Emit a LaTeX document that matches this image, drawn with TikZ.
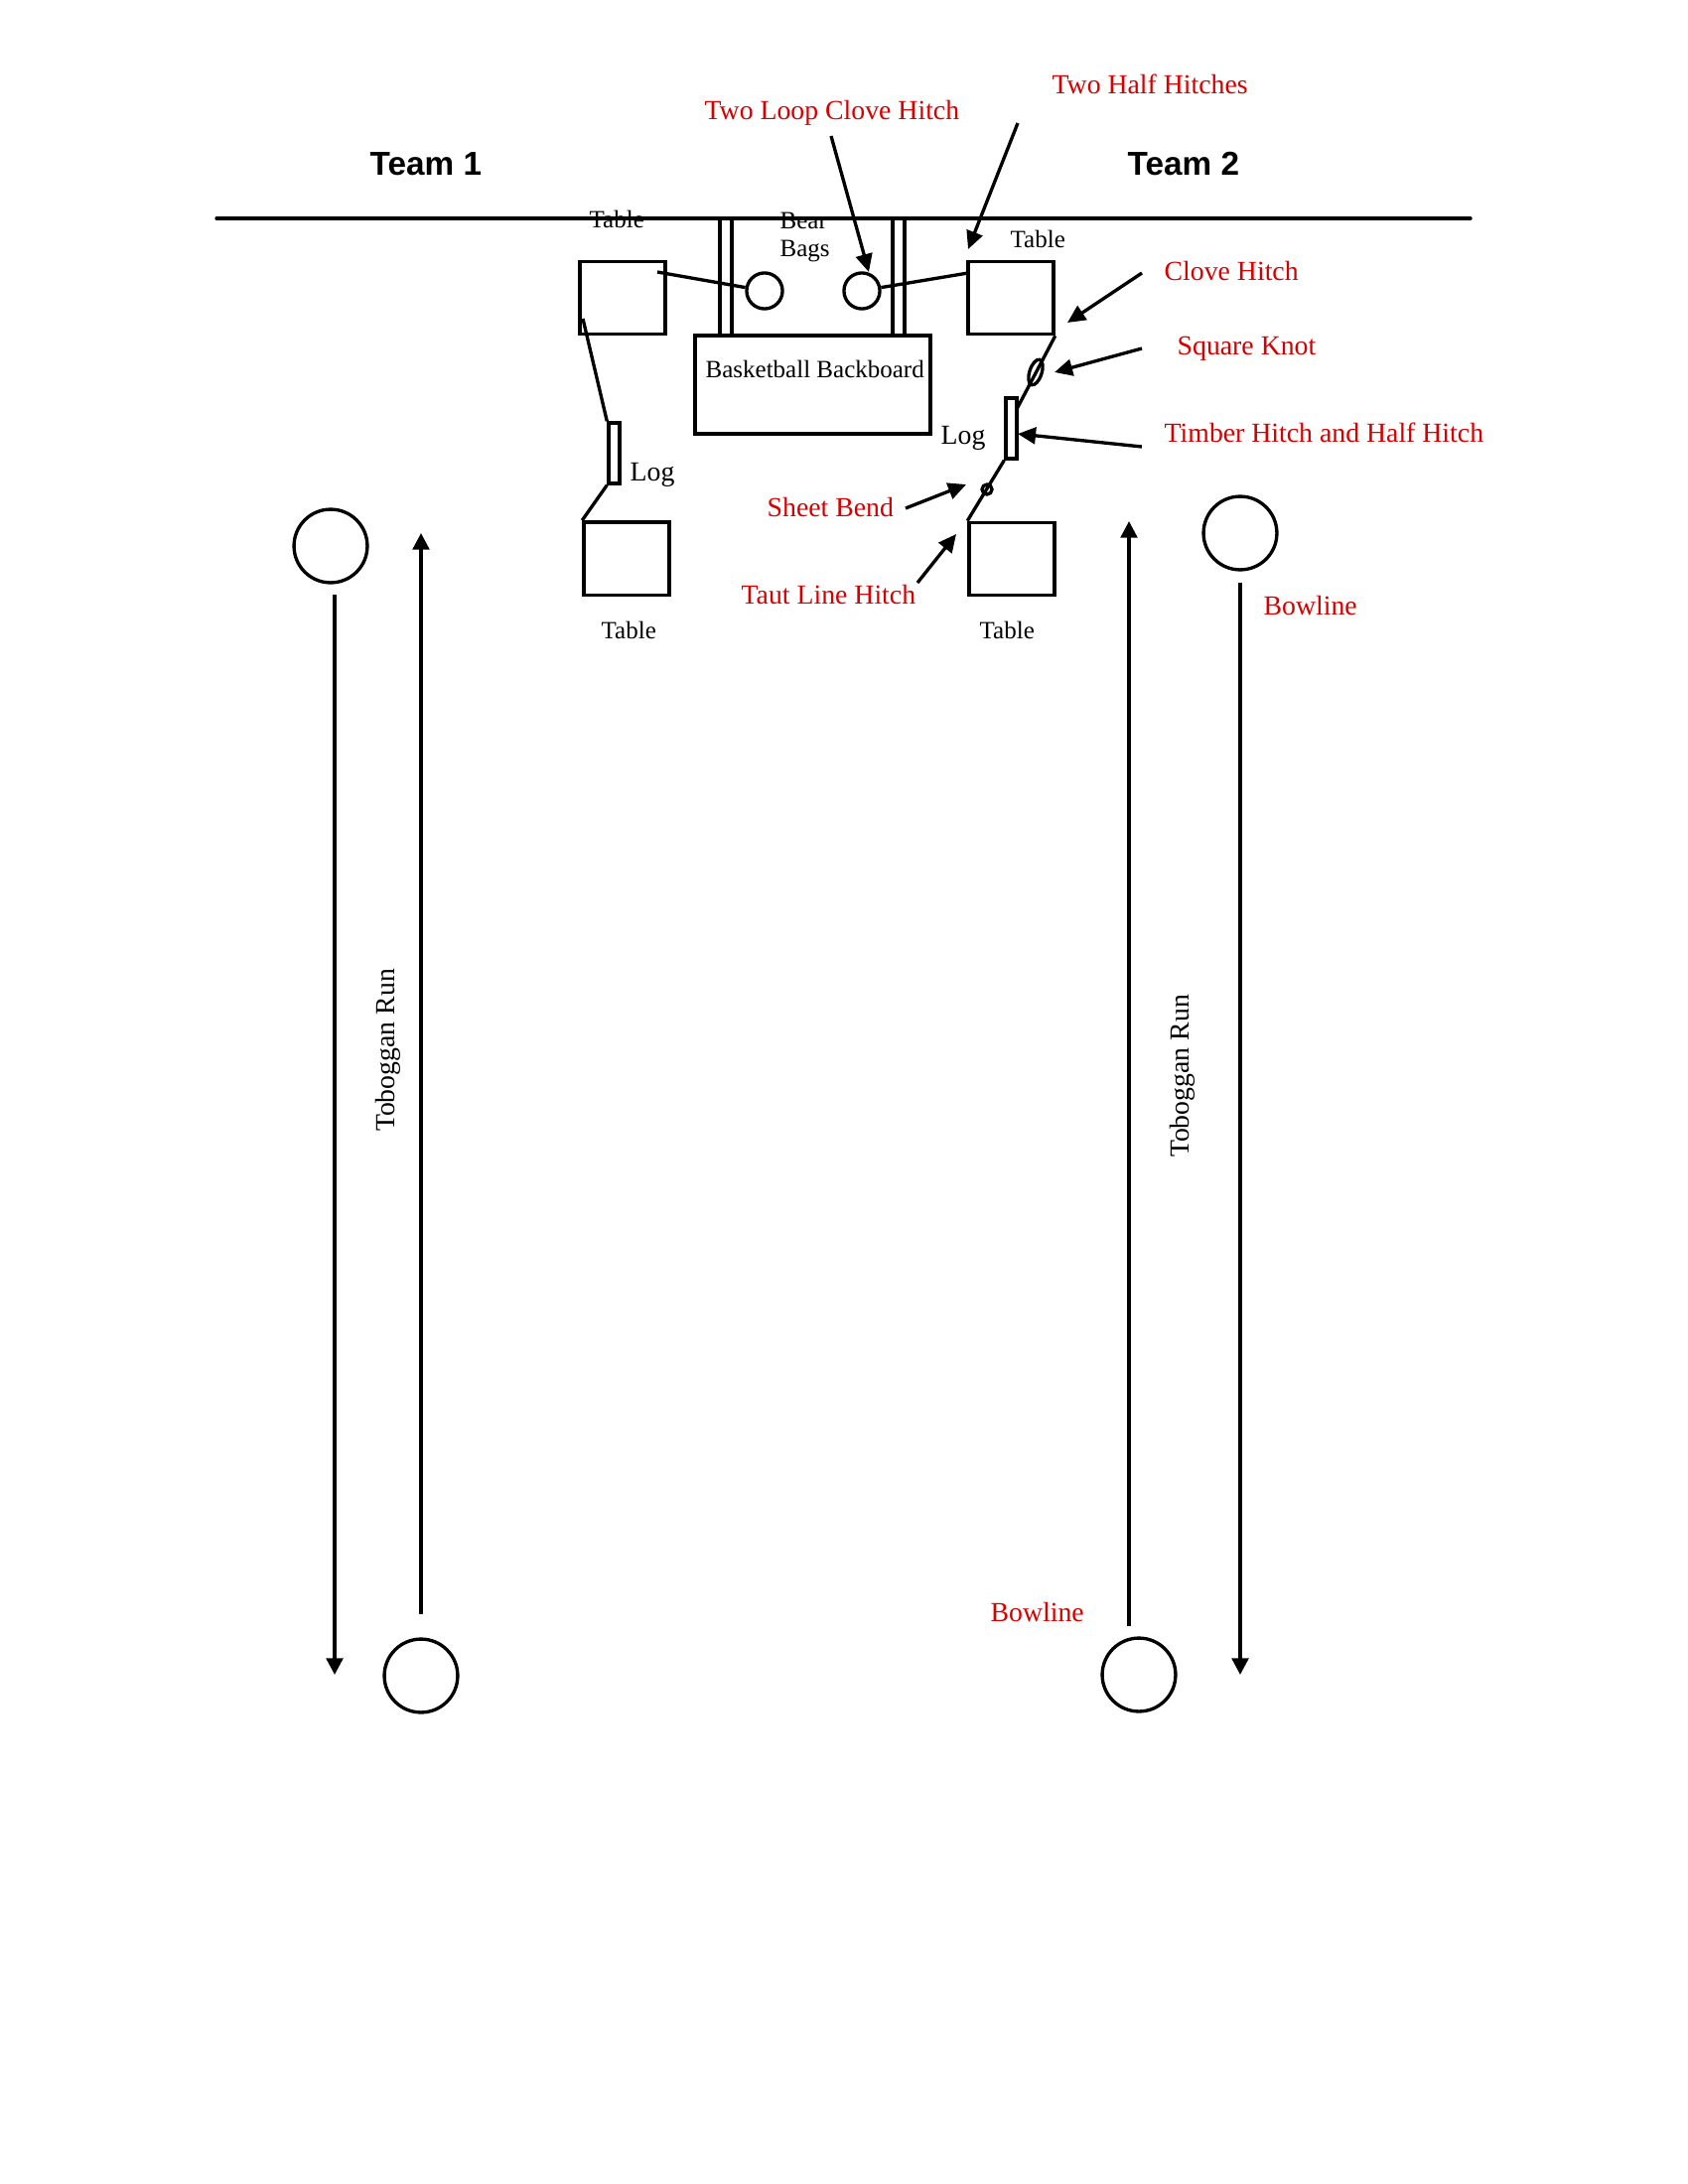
\documentclass[tikz,border=0pt]{standalone}
\usepackage{fontspec}
\setmainfont{Liberation Serif}
\newfontfamily\teamfont{Liberation Sans}
\usetikzlibrary{arrows.meta,shapes.geometric}
\definecolor{kred}{RGB}{215,0,0}
\begin{document}
\begin{tikzpicture}[x=0.36pt,y=-0.36pt, line width=1.2pt,
  tbl/.style={draw, rectangle, inner sep=0pt, minimum width=31pt, minimum height=26.4pt},
  logbox/.style={draw, rectangle, inner sep=0pt, minimum width=4pt, minimum height=22pt},
  bag/.style={draw, circle, inner sep=0pt, minimum size=13pt},
  ring/.style={draw, circle, inner sep=0pt, minimum size=26.6pt},
  lbl/.style={inner sep=0pt, anchor=base west, font=\fontsize{9}{10}\selectfont},
  biglbl/.style={inner sep=0pt, anchor=base west, font=\fontsize{10}{12}\selectfont},
  knot/.style={inner sep=0pt, anchor=base west, text=kred, font=\fontsize{10}{12}\selectfont},
  team/.style={inner sep=0pt, anchor=base west, font=\teamfont\bfseries\fontsize{12}{14}\selectfont},
  callout/.style={-{Triangle[length=6.5pt,width=6pt]}},
  runarrow/.style={-{Triangle[length=6pt,width=6pt]}}]
\useasboundingbox (0,0) rectangle (1700,2200);

% baseline
\coordinate (bl0) at (218,220);
\coordinate (bl1) at (1481,220);
\draw[line cap=round] (bl0) -- (bl1);

% team labels
\node[team] (team1) at (371,177) {Team 1};
\node[team] (team2) at (1134,177) {Team 2};

% tables
\node[tbl] (tl) at (627,300) {};
\node[tbl] (tr) at (1018,300) {};
\node[tbl] (bl) at (631,562.5) {};
\node[tbl] (br) at (1019,563) {};
\node[lbl] (ttl) at (592,230) {Table};
\node[lbl] (ttr) at (1016,250) {Table};
\node[lbl] (tbl) at (604,643) {Table};
\node[lbl] (tbr) at (985,643) {Table};

% posts and backboard
\coordinate (p1t) at (725,220); \coordinate (p1b) at (725,338);
\coordinate (p2t) at (737,220); \coordinate (p2b) at (737,338);
\coordinate (p3t) at (899,220); \coordinate (p3b) at (899,338);
\coordinate (p4t) at (911,220); \coordinate (p4b) at (911,338);
\draw (p1t) -- (p1b); \draw (p2t) -- (p2b);
\draw (p3t) -- (p3b); \draw (p4t) -- (p4b);
\node[draw, rectangle, inner sep=0pt, minimum width=85.3pt, minimum height=35.6pt] (bb) at (818.5,387.5) {};
\node[lbl] (bbt) at (709,380) {Basketball Backboard};

% bear bags
\node[bag] (bag1) at (770,293) {};
\node[bag] (bag2) at (868,293) {};
\node[lbl] (bear) at (784,231) {Bear};
\node[lbl] (bags) at (784,259) {Bags};
\coordinate (r1) at (662,274);
\coordinate (r2) at (975,275);
\draw (r1) -- (bag1.170);
\draw (bag2.10) -- (r2);

% left log and rope
\node[logbox] (logl) at (618.5,456.5) {};
\node[biglbl] (logltxt) at (633,484) {Log};
\coordinate (r3) at (587,321);
\draw (r3) -- (logl.north west);
\draw (logl.south west) -- (bl.north west);

% right log and rope
\node[logbox] (logr) at (1018.5,431.5) {};
\node[biglbl] (logrtxt) at (946,447) {Log};
\coordinate (r4) at (1024,412);
\draw (tr.south east) -- (r4);
\node[draw, ellipse, inner sep=0pt, minimum width=4.4pt, minimum height=9.6pt, rotate=-18] (sqk) at (1043,375) {};
\draw (logr.south west) -- (br.north west);
\node[draw, circle, inner sep=0pt, minimum size=3.6pt] (shb) at (994,493) {};

% knot labels
\node[knot] (k1) at (708,121) {Two Loop Clove Hitch};
\node[knot] (k2) at (1058,95) {Two Half Hitches};
\node[knot] (k3) at (1171,283) {Clove Hitch};
\node[knot] (k4) at (1184,358) {Square Knot};
\node[knot] (k5) at (1171,445) {Timber Hitch and Half Hitch};
\node[knot] (k6) at (771,520) {Sheet Bend};
\node[knot] (k7) at (745,608) {Taut Line Hitch};
\node[knot] (k8) at (1271,619) {Bowline};
\node[knot] (k9) at (996,1633) {Bowline};

% callout arrows
\coordinate (a1s) at (837,137); \coordinate (a1e) at (875,274);
\coordinate (a2s) at (1025,124); \coordinate (a2e) at (975,251);
\coordinate (a3s) at (1150,275); \coordinate (a3e) at (1075,325);
\coordinate (a4s) at (1150,351); \coordinate (a4e) at (1062,375);
\coordinate (a5s) at (1150,450); \coordinate (a5e) at (1025,437);
\coordinate (a6s) at (912,512); \coordinate (a6e) at (973,488);
\coordinate (a7s) at (924,587); \coordinate (a7e) at (963,538);
\draw[callout] (a1s) -- (a1e);
\draw[callout] (a2s) -- (a2e);
\draw[callout] (a3s) -- (a3e);
\draw[callout] (a4s) -- (a4e);
\draw[callout] (a5s) -- (a5e);
\draw[callout] (a6s) -- (a6e);
\draw[callout] (a7s) -- (a7e);

% toboggan runs
\node[ring] (c1) at (333,550) {};
\node[ring] (c2) at (1249,537) {};
\node[ring] (c3) at (424,1688) {};
\node[ring] (c4) at (1147,1687) {};
\coordinate (ld0) at (337,599); \coordinate (ld1) at (337,1687);
\coordinate (lu0) at (424,1626); \coordinate (lu1) at (424,537);
\coordinate (ru0) at (1137,1638); \coordinate (ru1) at (1137,525);
\coordinate (rd0) at (1249,587); \coordinate (rd1) at (1249,1687);
\draw[runarrow] (ld0) -- (ld1);
\draw[runarrow] (lu0) -- (lu1);
\draw[runarrow] (ru0) -- (ru1);
\draw[runarrow] (rd0) -- (rd1);
\node[inner sep=0pt, anchor=base, rotate=90, font=\fontsize{10}{12}\selectfont] (tob1) at (397,1058) {Toboggan Run};
\node[inner sep=0pt, anchor=base, rotate=90, font=\fontsize{10}{12}\selectfont] (tob2) at (1197,1084) {Toboggan Run};
\end{tikzpicture}
\end{document}
